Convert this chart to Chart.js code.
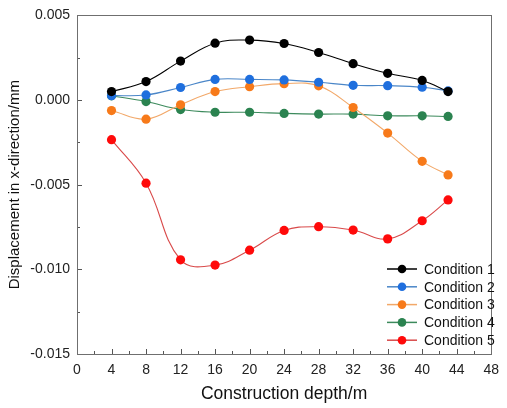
<!DOCTYPE html>
<html>
<head>
<meta charset="utf-8">
<script src="https://cdn.jsdelivr.net/npm/chart.js@4.4.1/dist/chart.umd.min.js"></script>
<style>
  html, body { margin: 0; padding: 0; background: #fff; }
  #wrap { width: 507px; height: 408px; position: relative; }
</style>
</head>
<body>
<div id="wrap"><canvas id="chart" width="507" height="408"></canvas></div>
<script>
// construction depth (m)
const depth = [4, 8, 12, 16, 20, 24, 28, 32, 36, 40, 43];

// displacement in x-direction (mm)
const cond1 = [0.0005, 0.00109, 0.0023, 0.00336, 0.00354, 0.00334, 0.00281, 0.00215, 0.00158, 0.00116, 0.0005];
const cond2 = [0.00026, 0.0003, 0.00074, 0.00122, 0.00122, 0.00119, 0.00105, 0.00087, 0.00085, 0.00076, 0.00054];
const cond3 = [-0.00062, -0.00113, -0.00028, 0.0005, 0.00079, 0.00097, 0.00084, -0.00044, -0.00195, -0.00362, -0.00442];
const cond4 = [0.00025, -0.00009, -0.00056, -0.00072, -0.00072, -0.00079, -0.00083, -0.00083, -0.00093, -0.00093, -0.00097];
const cond5 = [-0.00234, -0.00491, -0.00944, -0.00975, -0.00887, -0.0077, -0.00748, -0.00768, -0.0082, -0.00713, -0.0059];

const labels = ['Condition 1', 'Condition 2', 'Condition 3', 'Condition 4', 'Condition 5'];
const lineColors = ['#000000', '#4a86c8', '#f2a869', '#3c8a5c', '#d94a4a'];
const dotColors = ['#000000', '#1f6fde', '#f77a1a', '#2b8350', '#ff0a0a'];

const xTicks = [0, 4, 8, 12, 16, 20, 24, 28, 32, 36, 40, 44, 48];
const yTicks = [-0.015, -0.010, -0.005, 0.000, 0.005];

const FONT = '"Liberation Sans", Arial, sans-serif';

function pts(ys) {
  return ys.map((y, i) => ({ x: depth[i], y: y }));
}

const series = [cond1, cond2, cond3, cond4, cond5];
const datasets = series.map((s, i) => ({
  label: labels[i],
  data: pts(s),
  borderColor: lineColors[i],
  backgroundColor: dotColors[i],
  pointBackgroundColor: dotColors[i],
  pointBorderColor: dotColors[i],
  pointRadius: 4.6,
  pointBorderWidth: 0,
  borderWidth: 1.1,
  tension: 0.4,
  fill: false
}));

// frame, inward ticks and the legend
const decor = {
  id: 'decor',
  afterDraw(chart) {
    const ctx = chart.ctx;
    const a = chart.chartArea;
    const xs = chart.scales.x, ys = chart.scales.y;
    ctx.save();
    ctx.strokeStyle = '#555';
    ctx.lineWidth = 1;
    ctx.beginPath();
    // x ticks (major every 4, minor every 2)
    for (let v = 0; v <= 48; v += 2) {
      const px = Math.round(xs.getPixelForValue(v)) + 0.5;
      const len = v % 4 === 0 ? 5 : 3;
      ctx.moveTo(px, a.bottom);
      ctx.lineTo(px, a.bottom - len);
    }
    // y ticks (major every 0.005, minor halfway)
    for (let k = 0; k <= 8; k++) {
      const v = -0.015 + k * 0.0025;
      const py = Math.round(ys.getPixelForValue(v)) + 0.5;
      const len = k % 2 === 0 ? 5 : 3;
      ctx.moveTo(a.left, py);
      ctx.lineTo(a.left + len, py);
    }
    ctx.stroke();

    ctx.strokeStyle = '#6f6f6f';
    ctx.strokeRect(Math.round(a.left) + 0.5, Math.round(a.top) + 0.5,
      Math.round(a.right - a.left), Math.round(a.bottom - a.top));

    // legend
    ctx.font = '14px ' + FONT;
    ctx.textBaseline = 'middle';
    const lx = 387, ly = 269, step = 17.8;
    chart.data.datasets.forEach((d, i) => {
      const y = ly + i * step;
      ctx.strokeStyle = d.borderColor;
      ctx.lineWidth = 1.5;
      ctx.beginPath();
      ctx.moveTo(lx, y);
      ctx.lineTo(lx + 30, y);
      ctx.stroke();
      ctx.fillStyle = d.pointBackgroundColor;
      ctx.beginPath();
      ctx.arc(lx + 15, y, 4.3, 0, Math.PI * 2);
      ctx.fill();
      ctx.fillStyle = '#111';
      ctx.fillText(d.label, lx + 37, y + 1);
    });
    ctx.restore();
  }
};

new Chart(document.getElementById('chart'), {
  type: 'line',
  data: { datasets: datasets },
  plugins: [decor],
  options: {
    responsive: false,
    animation: false,
    devicePixelRatio: 1,
    layout: { padding: { left: 0, top: 14, right: 7, bottom: 0 } },
    plugins: { legend: { display: false }, tooltip: { enabled: false } },
    scales: {
      x: {
        type: 'linear',
        min: 0, max: 48,
        afterBuildTicks(scale) { scale.ticks = xTicks.map(v => ({ value: v })); },
        afterFit(scale) { scale.height = 54; },
        grid: { display: false, drawTicks: false },
        border: { display: false },
        ticks: {
          padding: 8,
          color: '#222',
          font: { family: FONT, size: 14 },
          maxRotation: 0,
          callback: v => String(v)
        },
        title: {
          display: true,
          text: 'Construction depth/m',
          color: '#111',
          font: { family: FONT, size: 17.5 },
          padding: { top: 4, bottom: 3 }
        }
      },
      y: {
        type: 'linear',
        min: -0.015, max: 0.005,
        afterBuildTicks(scale) { scale.ticks = yTicks.map(v => ({ value: v })); },
        afterFit(scale) { scale.width = 77; },
        grid: { display: false, drawTicks: false },
        border: { display: false },
        ticks: {
          padding: 7,
          color: '#222',
          font: { family: FONT, size: 14 },
          callback: v => v.toFixed(3)
        },
        title: {
          display: true,
          text: 'Displacement in x-direction/mm',
          color: '#111',
          font: { family: FONT, size: 15 },
          padding: { top: 6, bottom: 2 }
        }
      }
    }
  }
});
</script>
</body>
</html>
